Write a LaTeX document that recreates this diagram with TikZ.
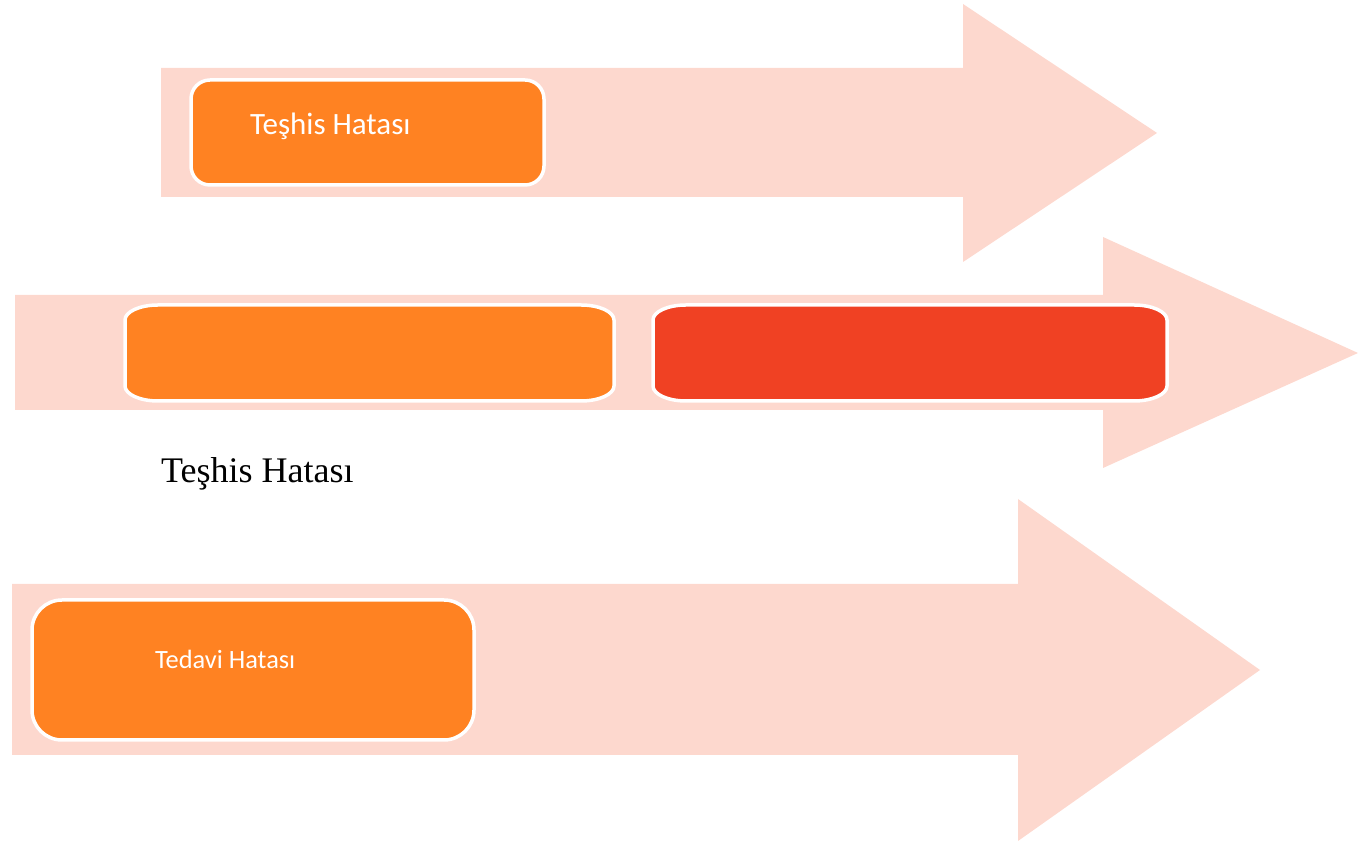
\documentclass[tikz,border=0pt]{standalone}
\usepackage{fontspec}
\newfontfamily\boxfont{Carlito}
\newfontfamily\serfont{Liberation Serif}
\definecolor{peach}{RGB}{253,216,206}
\definecolor{orng}{RGB}{255,130,34}
\definecolor{redo}{RGB}{240,65,35}
\newcommand\ebox[7]{%
  \filldraw[fill=#7, draw=white, line width=3.5pt]
    (#1+#5,#2) -- (#3-#5,#2)
    arc[start angle=270,end angle=360,x radius=#5,y radius=#6]
    -- (#3,#4-#6)
    arc[start angle=0,end angle=90,x radius=#5,y radius=#6]
    -- (#1+#5,#4)
    arc[start angle=90,end angle=180,x radius=#5,y radius=#6]
    -- (#1,#2+#6)
    arc[start angle=180,end angle=270,x radius=#5,y radius=#6]
    -- cycle;}
\tikzset{
  bigarrow/.style={fill=peach, draw=none},
  boxlabel/.style={text=white, anchor=base west, inner sep=0pt, font=\boxfont},
  plainlabel/.style={text=black, anchor=base west, inner sep=0pt, font=\serfont\fontsize{36}{42}\selectfont},
  anchorpt/.style={inner sep=0pt, minimum size=0pt}
}
\begin{document}
\begin{tikzpicture}[x=1pt,y=1pt]
\useasboundingbox (0,0) rectangle (1358,848);
% arrows
\fill[bigarrow] (161,651) -- (963,651) -- (963,586) -- (1157,715) -- (963,844) -- (963,780) -- (161,780) -- cycle;
\fill[bigarrow] (15,438) -- (1103,438) -- (1103,380) -- (1358,495) -- (1103,611) -- (1103,553) -- (15,553) -- cycle;
\fill[bigarrow] (12,93) -- (1018,93) -- (1018,7) -- (1260,178) -- (1018,349) -- (1018,264) -- (12,264) -- cycle;
% boxes
\ebox{191}{663}{544}{768}{19}{19}{orng}
\node[anchorpt] (b1) at (367.5,715.5) {};
\ebox{125}{447}{614}{543}{33}{15}{orng}
\node[anchorpt] (b2) at (369.5,495) {};
\ebox{653}{447}{1167}{543}{33}{15}{redo}
\node[anchorpt] (b3) at (910,495) {};
\ebox{32}{108}{474}{248}{30}{30}{orng}
\node[anchorpt] (b4) at (253,178) {};
% labels
\node[boxlabel, font=\boxfont\fontsize{31}{37}\selectfont] (t1) at (250,713) {Teşhis Hatası};
\node[boxlabel, font=\boxfont\fontsize{26.4}{31}\selectfont] (t4) at (155,179) {Tedavi Hatası};
\node[plainlabel] (t2) at (161,365) {Teşhis Hatası};
\end{tikzpicture}
\end{document}
